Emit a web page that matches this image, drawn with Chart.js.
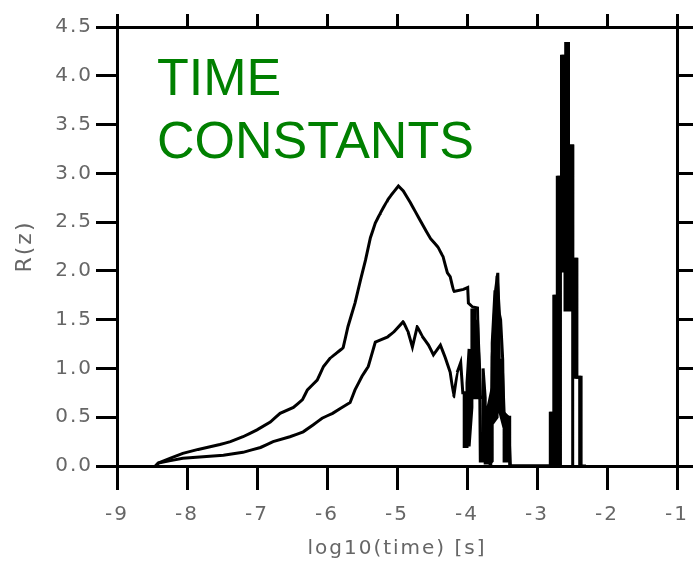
<!DOCTYPE html>
<html>
<head>
<meta charset="utf-8">
<script src="https://cdn.jsdelivr.net/npm/chart.js@4/dist/chart.umd.min.js"></script>
<style>
  html, body { margin: 0; padding: 0; background: #fff; }
  #wrap { width: 693px; height: 570px; }
</style>
</head>
<body>
<div id="wrap"><canvas id="grafico" width="693" height="570"></canvas></div>
<script>
// ejes
const xTickLabels = ["-9", "-8", "-7", "-6", "-5", "-4", "-3", "-2", "-1"];
const yTickLabels = ["0.0", "0.5", "1.0", "1.5", "2.0", "2.5", "3.0", "3.5", "4.0", "4.5"];

// curva superior
const upperX = [-8.45, -8.41, -8.06, -7.84, -7.53, -7.38, -7.20, -7.00, -6.81, -6.67, -6.48, -6.35, -6.28, -6.14, -6.05, -5.95,
    -5.77, -5.70, -5.60, -5.52, -5.45, -5.38, -5.31, -5.24, -5.14, -5.09, -4.98, -4.91, -4.81, -4.74, -4.64, -4.52,
    -4.41, -4.34, -4.28, -4.24, -4.19, -4.05, -3.99, -3.98, -3.92, -3.85, -3.84, -3.81, -3.76, -3.71, -3.66, -3.64,
    -3.59, -3.56, -3.55, -3.52, -3.49, -3.48, -3.41, -3.38, -2.81,
    -2.81, -2.76, -2.76, -2.71, -2.71, -2.65, -2.65, -2.59, -2.59, -2.55, -2.55, -2.49, -2.49, -2.43, -2.43, -2.37, -2.37];
const upperY = [0, 0.03, 0.13, 0.17, 0.22, 0.25, 0.30, 0.37, 0.45, 0.54, 0.60, 0.68, 0.78, 0.88, 1.02, 1.11,
    1.21, 1.43, 1.67, 1.91, 2.11, 2.34, 2.49, 2.59, 2.72, 2.77, 2.87, 2.82, 2.70, 2.61, 2.48, 2.33,
    2.24, 2.14, 1.98, 1.94, 1.79, 1.81, 1.83, 1.67, 1.63, 1.62, 1.26, 0.70, 0.71, 0.13, 0.03, 1.12,
    1.81, 1.98, 1.60, 1.50, 1.09, 0.55, 0.50, 0, 0,
    0.54, 0.54, 1.74, 1.74, 2.96, 2.96, 4.20, 4.20, 4.33, 4.33, 3.28, 3.28, 2.12, 2.12, 0.91, 0.91, 0];

// curva inferior
const lowerX = [-8.45, -8.41, -8.06, -7.48, -7.20, -6.95, -6.77, -6.53, -6.34, -6.20, -6.07, -5.92, -5.81, -5.67, -5.60, -5.50,
    -5.41, -5.35, -5.31, -5.14, -5.05, -4.91, -4.84, -4.78, -4.71, -4.64, -4.55, -4.48, -4.38, -4.31, -4.24, -4.19,
    -4.14, -4.09, -4.06,
    -4.04, -4.04, -4.00, -4.00, -3.97, -3.97, -3.93, -3.93, -3.89, -3.89, -3.85, -3.85, -3.82, -3.81, -3.77, -3.77,
    -3.74, -3.74, -3.70, -3.70, -3.67, -3.67, -3.64, -3.64, -3.60, -3.60, -3.57, -3.57, -3.54, -3.54, -3.50, -3.50,
    -3.47, -3.47, -3.43, -3.43, -3.39, -3.39, -2.86,
    -2.80, -2.80, -2.775, -2.775, -2.745, -2.745, -2.715, -2.715, -2.69, -2.69, -2.665, -2.665, -2.665, -2.63, -2.63,
    -2.60, -2.60, -2.575, -2.575, -2.55, -2.55, -2.515, -2.515, -2.49, -2.49, -2.49, -2.46, -2.46, -2.44, -2.44,
    -2.39, -2.39, -2.30];
const lowerY = [0, 0.03, 0.08, 0.11, 0.14, 0.19, 0.25, 0.30, 0.35, 0.42, 0.49, 0.54, 0.59, 0.65, 0.78, 0.92,
    1.02, 1.17, 1.27, 1.32, 1.37, 1.48, 1.37, 1.22, 1.43, 1.33, 1.24, 1.14, 1.24, 1.11, 0.96, 0.71,
    0.96, 1.06, 0.75,
    0.75, 0.20, 0.20, 0.85, 1.20, 0.20, 0.60, 1.60, 1.60, 0.70, 0.70, 1.50, 1.00, 0.05, 0.05, 1.00,
    0.70, 0.03, 0.03, 0.60, 0.70, 0.03, 0.05, 1.26, 1.80, 0.47, 0.50, 1.95, 1.60, 0.58, 0.47, 1.10,
    0.55, 0.05, 0.05, 0.50, 0.50, 0, 0,
    0, 0.54, 0.54, 0, 0, 1.74, 1.74, 0, 0, 2.96, 2.96, 0, 2.0, 2.0, 4.2,
    4.2, 1.6, 1.6, 4.33, 4.33, 1.6, 1.6, 3.28, 3.28, 0, 0.91, 0.91, 2.12, 2.12, 0.91,
    0.91, 0, 0];

const toPoints = (xs, ys) => xs.map((x, i) => ({ x: x, y: ys[i] }));

// espaciado de letras para los textos de los ejes
const spacingPlugin = {
    id: "spacing",
    beforeInit(chart) { chart.ctx.letterSpacing = "2px"; },
    beforeLayout(chart) { chart.ctx.letterSpacing = "2px"; }
};

// texto verde
const titlePlugin = {
    id: "bigText",
    afterDraw(chart) {
        const ctx = chart.ctx;
        ctx.save();
        ctx.letterSpacing = "0px";
        ctx.font = "52px 'Liberation Sans', Arial, sans-serif";
        ctx.fillStyle = "#008000";
        ctx.textAlign = "left";
        ctx.textBaseline = "alphabetic";
        ctx.fillText("TIME", 157, 95);
        ctx.fillText("CONSTANTS", 157, 158);
        ctx.restore();
    }
};

const tickFont = { family: "'DejaVu Sans', sans-serif", size: 20 };
const grey = "#666666";

const axisGrid = (len) => ({
    drawOnChartArea: false,
    drawTicks: true,
    tickLength: len,
    color: "#000",
    lineWidth: 3
});
const axisBorder = { display: true, color: "#000", width: 3 };

// tension minima: evita el "fast path" que junta puntos del mismo pixel
const lineStyle = {
    borderColor: "#000",
    borderWidth: 3,
    pointRadius: 0,
    tension: 0.000001,
    borderJoinStyle: "miter",
    fill: false
};

const chart = new Chart(document.getElementById("grafico"), {
    type: "line",
    data: {
        datasets: [
            Object.assign({ label: "upper", data: toPoints(upperX, upperY) }, lineStyle),
            Object.assign({ label: "lower", data: toPoints(lowerX, lowerY) }, lineStyle)
        ]
    },
    options: {
        responsive: false,
        animation: false,
        layout: { padding: 0 },
        plugins: {
            legend: { display: false },
            tooltip: { enabled: false }
        },
        scales: {
            x: {
                type: "linear",
                position: "bottom",
                min: -9,
                max: -1,
                ticks: {
                    stepSize: 1,
                    color: grey,
                    font: tickFont,
                    padding: 13,
                    maxRotation: 0,
                    callback: (v, i) => xTickLabels[i]
                },
                grid: axisGrid(24),
                border: axisBorder,
                title: {
                    display: true,
                    text: "log10(time) [s]",
                    color: grey,
                    font: tickFont,
                    padding: { top: 0, bottom: 9 }
                },
                afterFit: s => { s.height = 104; s.paddingLeft = 0; s.paddingRight = 0; }
            },
            x2: {
                type: "linear",
                position: "top",
                min: -9,
                max: -1,
                ticks: { stepSize: 1, display: false },
                grid: axisGrid(13),
                border: axisBorder,
                afterFit: s => { s.height = 27; s.paddingLeft = 0; s.paddingRight = 0; }
            },
            y: {
                position: "left",
                min: 0,
                max: 4.5,
                ticks: {
                    stepSize: 0.5,
                    color: grey,
                    font: tickFont,
                    padding: 3,
                    callback: (v, i) => yTickLabels[i]
                },
                grid: axisGrid(21),
                border: axisBorder,
                title: {
                    display: true,
                    text: "R(z)",
                    color: grey,
                    font: { family: "'DejaVu Sans', sans-serif", size: 22 },
                    padding: { top: 12, bottom: 0 }
                },
                afterFit: s => { s.width = 117; s.paddingTop = 0; s.paddingBottom = 0; }
            },
            y2: {
                position: "right",
                min: 0,
                max: 4.5,
                ticks: { stepSize: 0.5, display: false },
                grid: axisGrid(16),
                border: axisBorder,
                afterFit: s => { s.width = 16; s.paddingTop = 0; s.paddingBottom = 0; }
            }
        }
    },
    plugins: [spacingPlugin, titlePlugin]
});
</script>
</body>
</html>
